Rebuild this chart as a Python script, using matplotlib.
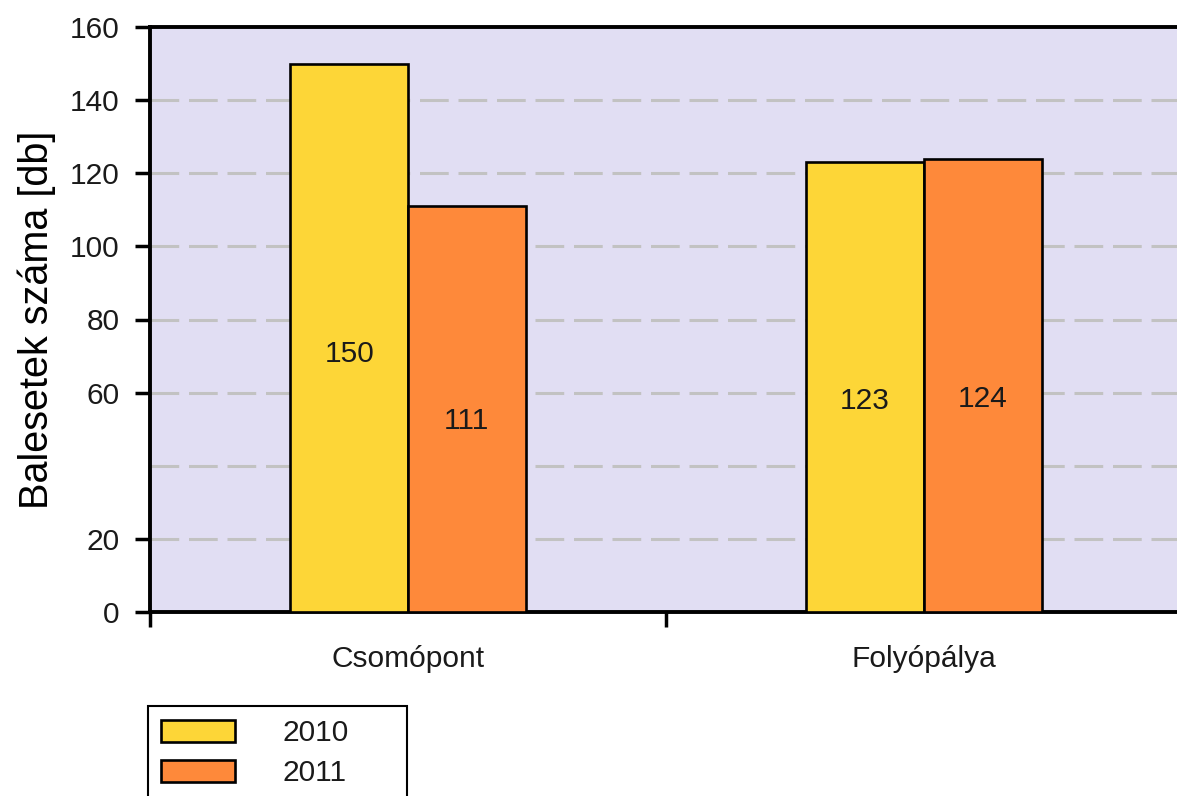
import numpy as np
import matplotlib.pyplot as plt
from matplotlib.patches import Rectangle

plt.rcParams['font.family'] = ['Liberation Sans', 'DejaVu Sans']
plt.rcParams['text.color'] = '#1a1a1a'
plt.rcParams['xtick.labelcolor'] = '#1a1a1a'
plt.rcParams['ytick.labelcolor'] = '#1a1a1a'

# accidents per location type, by year
categories = ['Csomópont', 'Folyópálya']
years = ['2010', '2011']
counts_2010 = [150, 123]
counts_2011 = [111, 124]
y_ticks = [0, 20, 60, 80, 100, 120, 140, 160]
grid_levels = [20, 40, 60, 80, 100, 120, 140]

colors = ['#FDD637', '#FE893A']
bg = '#E1DEF3'
fs = 21.5

fig = plt.figure(figsize=(11.77, 7.96), dpi=100)
# axes run a little past the right edge of the canvas
ax = fig.add_axes([150 / 1177, 1 - 612 / 796, 1032 / 1177, 585 / 796])
ax.set_facecolor(bg)

x = np.arange(len(categories)) + 0.5
w = 0.228
bars = []
for i, (vals, col) in enumerate(zip([counts_2010, counts_2011], colors)):
    pos = x - w / 2 + i * w
    b = ax.bar(pos, vals, width=w, color=col, edgecolor='black', linewidth=1.9, zorder=3)
    bars.append(b)
    for p, v in zip(pos, vals):
        ax.text(p, v * 0.47, str(v), ha='center', va='center', fontsize=fs, zorder=4)

for g in grid_levels:
    ax.axhline(g, color='#C2C2C2', linewidth=2.2, dashes=(9.4, 3.2), zorder=1)

ax.set_xlim(0, 2)
ax.set_ylim(0, 160)
ax.set_yticks(y_ticks)
ax.set_xticks([0, 1, 2])
ax.set_xticklabels([])
ax.set_xticks(x, minor=True)
ax.set_xticklabels(categories, minor=True, fontsize=fs)
ax.tick_params(axis='x', which='minor', length=0, pad=24)
ax.tick_params(axis='x', which='major', length=11, width=2.5, direction='out')
ax.tick_params(axis='y', length=11, width=2.5, labelsize=fs, pad=11)

for s in ['left', 'bottom', 'top']:
    ax.spines[s].set_linewidth(2.8)
ax.spines['right'].set_visible(False)

ax.set_ylabel('Balesetek száma [db]', fontsize=28.5, labelpad=10)

# legend below the chart, framed by hand
fig.patches.append(Rectangle((148 / 1177, 1 - 800 / 796), 259 / 1177, 94 / 796,
                             transform=fig.transFigure, facecolor='none',
                             edgecolor='black', linewidth=1.5))
fig.legend([bars[0], bars[1]], years, loc='upper left',
           bbox_to_anchor=(148 / 1177, 1 - 706 / 796), frameon=False,
           fontsize=fs, handlelength=2.45, handleheight=0.8, handletextpad=1.6,
           labelspacing=0.4, borderpad=0.45, borderaxespad=0)

fig.savefig('out.png', dpi=100)
